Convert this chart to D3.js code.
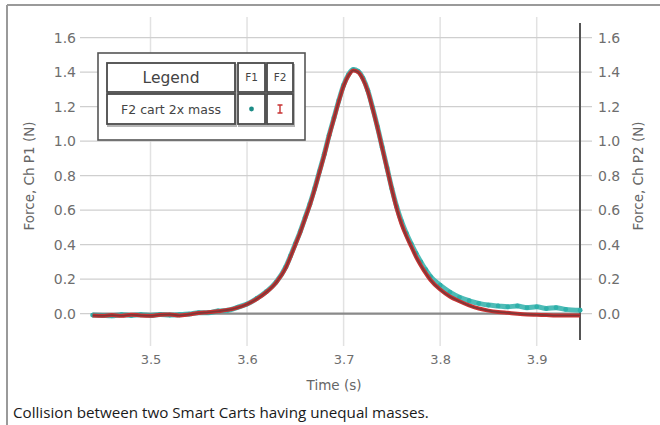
<!DOCTYPE html>
<html><head><meta charset="utf-8">
<script src="https://cdn.jsdelivr.net/npm/d3@7/dist/d3.min.js"></script>
<style>
html,body{margin:0;padding:0;background:#fff;}
svg{display:block;}
</style></head>
<body>
<svg id="c" width="660" height="425"></svg>
<script>
// ---- data ----
const times = [3.440,3.450,3.460,3.470,3.480,3.490,3.500,3.510,3.520,3.530,3.540,3.550,3.560,3.570,3.580,3.590,3.600,3.610,3.620,3.630,3.640,3.645,3.650,3.655,3.660,3.665,3.670,3.675,3.680,3.685,3.690,3.695,3.700,3.705,3.710,3.715,3.720,3.725,3.730,3.735,3.740,3.745,3.750,3.755,3.760,3.765,3.770,3.775,3.780,3.785,3.790,3.800,3.810,3.820,3.830,3.840,3.850,3.860,3.870,3.880,3.890,3.900,3.910,3.920,3.930,3.945];
const forceP2 = [-0.01,-0.012,-0.008,-0.012,-0.006,-0.01,-0.012,-0.006,-0.004,-0.01,-0.004,0.004,0.008,0.014,0.022,0.035,0.055,0.085,0.125,0.18,0.265,0.33,0.40,0.47,0.55,0.63,0.72,0.82,0.92,1.03,1.13,1.23,1.32,1.38,1.41,1.40,1.36,1.29,1.19,1.08,0.96,0.84,0.72,0.61,0.52,0.45,0.39,0.33,0.28,0.235,0.195,0.14,0.10,0.072,0.048,0.03,0.018,0.01,0.005,0.0,-0.004,-0.006,-0.008,-0.01,-0.01,-0.01];
const forceP1 = [-0.008,-0.01,-0.012,-0.006,-0.01,-0.006,-0.01,-0.004,-0.008,-0.006,-0.002,0.006,0.006,0.016,0.02,0.037,0.056,0.088,0.128,0.182,0.27,0.335,0.405,0.475,0.555,0.635,0.725,0.825,0.925,1.035,1.135,1.235,1.325,1.385,1.415,1.405,1.365,1.295,1.195,1.085,0.965,0.845,0.725,0.62,0.535,0.465,0.405,0.35,0.30,0.255,0.215,0.165,0.125,0.095,0.075,0.06,0.05,0.045,0.04,0.045,0.035,0.04,0.03,0.035,0.025,0.02];
const xTicks = [3.5,3.6,3.7,3.8,3.9];
const yTicks = [0.0,0.2,0.4,0.6,0.8,1.0,1.2,1.4,1.6];
const legendTitle = "Legend";
const seriesNames = ["F1","F2"];
const runName = "F2 cart 2x mass";
const caption = "Collision between two Smart Carts having unequal masses.";
const xTitle = "Time (s)";
const yTitleL = "Force, Ch P1 (N)";
const yTitleR = "Force, Ch P2 (N)";

// ---- layout ----
const svg = d3.select("#c");
const pLeft = 80, pRight = 580, pTop = 23, pBottom = 340;
const x = d3.scaleLinear().domain([3.5,3.9]).range([150.5,536.7]);
const y = d3.scaleLinear().domain([0,1.6]).range([313.7,37.7]);
const tickFont = "'DejaVu Sans', Verdana, sans-serif";
const teal = "#2fb0aa", red = "#c83232";

// frame
svg.append("line").attr("x1",7).attr("x2",660).attr("y1",5).attr("y2",5).attr("stroke","#9a9a9a").attr("stroke-width",2);
svg.append("line").attr("x1",7).attr("x2",7).attr("y1",5).attr("y2",425).attr("stroke","#9a9a9a").attr("stroke-width",2);

// vertical gridlines
svg.append("g").selectAll("line").data(xTicks).join("line")
  .attr("x1",d=>x(d)).attr("x2",d=>x(d)).attr("y1",17).attr("y2",346)
  .attr("stroke","#e2e2e2").attr("stroke-width",1.5);
// horizontal gridlines
svg.append("g").selectAll("line").data(yTicks).join("line")
  .attr("x1",pLeft).attr("x2",592).attr("y1",d=>y(d)).attr("y2",d=>y(d))
  .attr("stroke","#cfcfcf").attr("stroke-width",1.2);

// zero line
svg.append("line").attr("x1",x(times[0])).attr("x2",pRight).attr("y1",y(0)).attr("y2",y(0))
  .attr("stroke","#8a8a8a").attr("stroke-width",2.2);

// axes labels via d3 axes
const axL = d3.axisLeft(y).tickValues(yTicks).tickFormat(d3.format(".1f")).tickSize(0).tickPadding(4);
const gL = svg.append("g").attr("transform",`translate(${pLeft},0)`).call(axL);
const axR = d3.axisRight(y).tickValues(yTicks).tickFormat(d3.format(".1f")).tickSize(0).tickPadding(18);
const gR = svg.append("g").attr("transform",`translate(${pRight},0)`).call(axR);
const axB = d3.axisBottom(x).tickValues(xTicks).tickFormat(d3.format(".1f")).tickSize(0).tickPadding(0);
const gB = svg.append("g").attr("transform",`translate(0,355)`).call(axB);
[gL,gR,gB].forEach(g=>{
  g.select(".domain").remove();
  g.selectAll("text").attr("fill","#6e6e6e").style("font-family",tickFont);
});
gL.selectAll("text").style("font-size","14px");
gR.selectAll("text").style("font-size","14px");
gB.selectAll("text").style("font-size","13px");
// right axis line
svg.append("line").attr("x1",pRight).attr("x2",pRight).attr("y1",pTop).attr("y2",pBottom)
  .attr("stroke","#555").attr("stroke-width",2);

// axis titles
svg.append("text").attr("transform",`translate(34,176) rotate(-90)`).attr("text-anchor","middle")
  .attr("fill","#666").style("font-family",tickFont).style("font-size","13.5px").text(yTitleL);
svg.append("text").attr("transform",`translate(643,176) rotate(-90)`).attr("text-anchor","middle")
  .attr("fill","#666").style("font-family",tickFont).style("font-size","13.5px").text(yTitleR);
svg.append("text").attr("x",334).attr("y",390).attr("text-anchor","middle")
  .attr("fill","#666").style("font-family",tickFont).style("font-size","13.5px").text(xTitle);

// data
const d1 = times.map((t,i)=>[t,forceP1[i]]);
const d2 = times.map((t,i)=>[t,forceP2[i]]);
const line = d3.line().x(d=>x(d[0])).y(d=>y(d[1])).curve(d3.curveMonotoneX);
svg.append("path").attr("d",line(d1)).attr("fill","none").attr("stroke",teal).attr("stroke-width",5).attr("opacity",0.85);
svg.append("g").selectAll("circle").data(d1).join("circle")
  .attr("cx",d=>x(d[0])).attr("cy",d=>y(d[1])).attr("r",2.4).attr("fill",teal);
svg.append("path").attr("d",line(d2)).attr("fill","none").attr("stroke",red).attr("stroke-width",4);
svg.append("path").attr("d",line(d2)).attr("fill","none").attr("stroke","#5e3a3a").attr("stroke-width",1.6).attr("opacity",0.7);

// legend
const lg = svg.append("g");
lg.append("rect").attr("x",98).attr("y",53).attr("width",207).attr("height",87)
  .attr("fill","#fff").attr("stroke","#555").attr("stroke-width",1.6);
const cells = [
  {x:107,y:63,w:128,h:29,t:legendTitle,fs:15.5},
  {x:238,y:63,w:27,h:29,t:seriesNames[0],fs:10.5},
  {x:267,y:63,w:26,h:29,t:seriesNames[1],fs:10.5},
  {x:107,y:94,w:128,h:30,t:runName,fs:12.5},
  {x:238,y:94,w:27,h:30,t:"",fs:10},
  {x:267,y:94,w:26,h:30,t:"",fs:10}
];
lg.selectAll("rect.sh").data(cells).join("rect").attr("class","sh")
  .attr("x",d=>d.x+1).attr("y",d=>d.y+2).attr("width",d=>d.w).attr("height",d=>d.h)
  .attr("fill","none").attr("stroke","#b5b5b5").attr("stroke-width",2);
lg.selectAll("rect.c").data(cells).join("rect").attr("class","c")
  .attr("x",d=>d.x).attr("y",d=>d.y).attr("width",d=>d.w).attr("height",d=>d.h)
  .attr("fill","#fff").attr("stroke","#4a4a4a").attr("stroke-width",1.8);
lg.selectAll("text").data(cells.filter(d=>d.t)).join("text")
  .attr("x",d=>d.x+d.w/2).attr("y",d=>d.y+d.h/2).attr("dy","0.36em").attr("text-anchor","middle")
  .attr("fill","#444").style("font-family",tickFont).style("font-size",d=>d.fs+"px").text(d=>d.t);
lg.append("circle").attr("cx",251.5).attr("cy",109).attr("r",2.4).attr("fill","#1c8c86");
const ix = 280, iy = 109;
lg.append("path").attr("d",`M${ix-2.5},${iy-4}H${ix+2.5}M${ix},${iy-4}V${iy+4}M${ix-2.5},${iy+4}H${ix+2.5}`)
  .attr("stroke",red).attr("stroke-width",1.4).attr("fill","none");

// caption
svg.append("text").attr("x",13).attr("y",418).attr("fill","#1a1a1a")
  .style("font-family","'Open Sans', sans-serif").style("font-size","15.2px").text(caption);
</script>
</body></html>
